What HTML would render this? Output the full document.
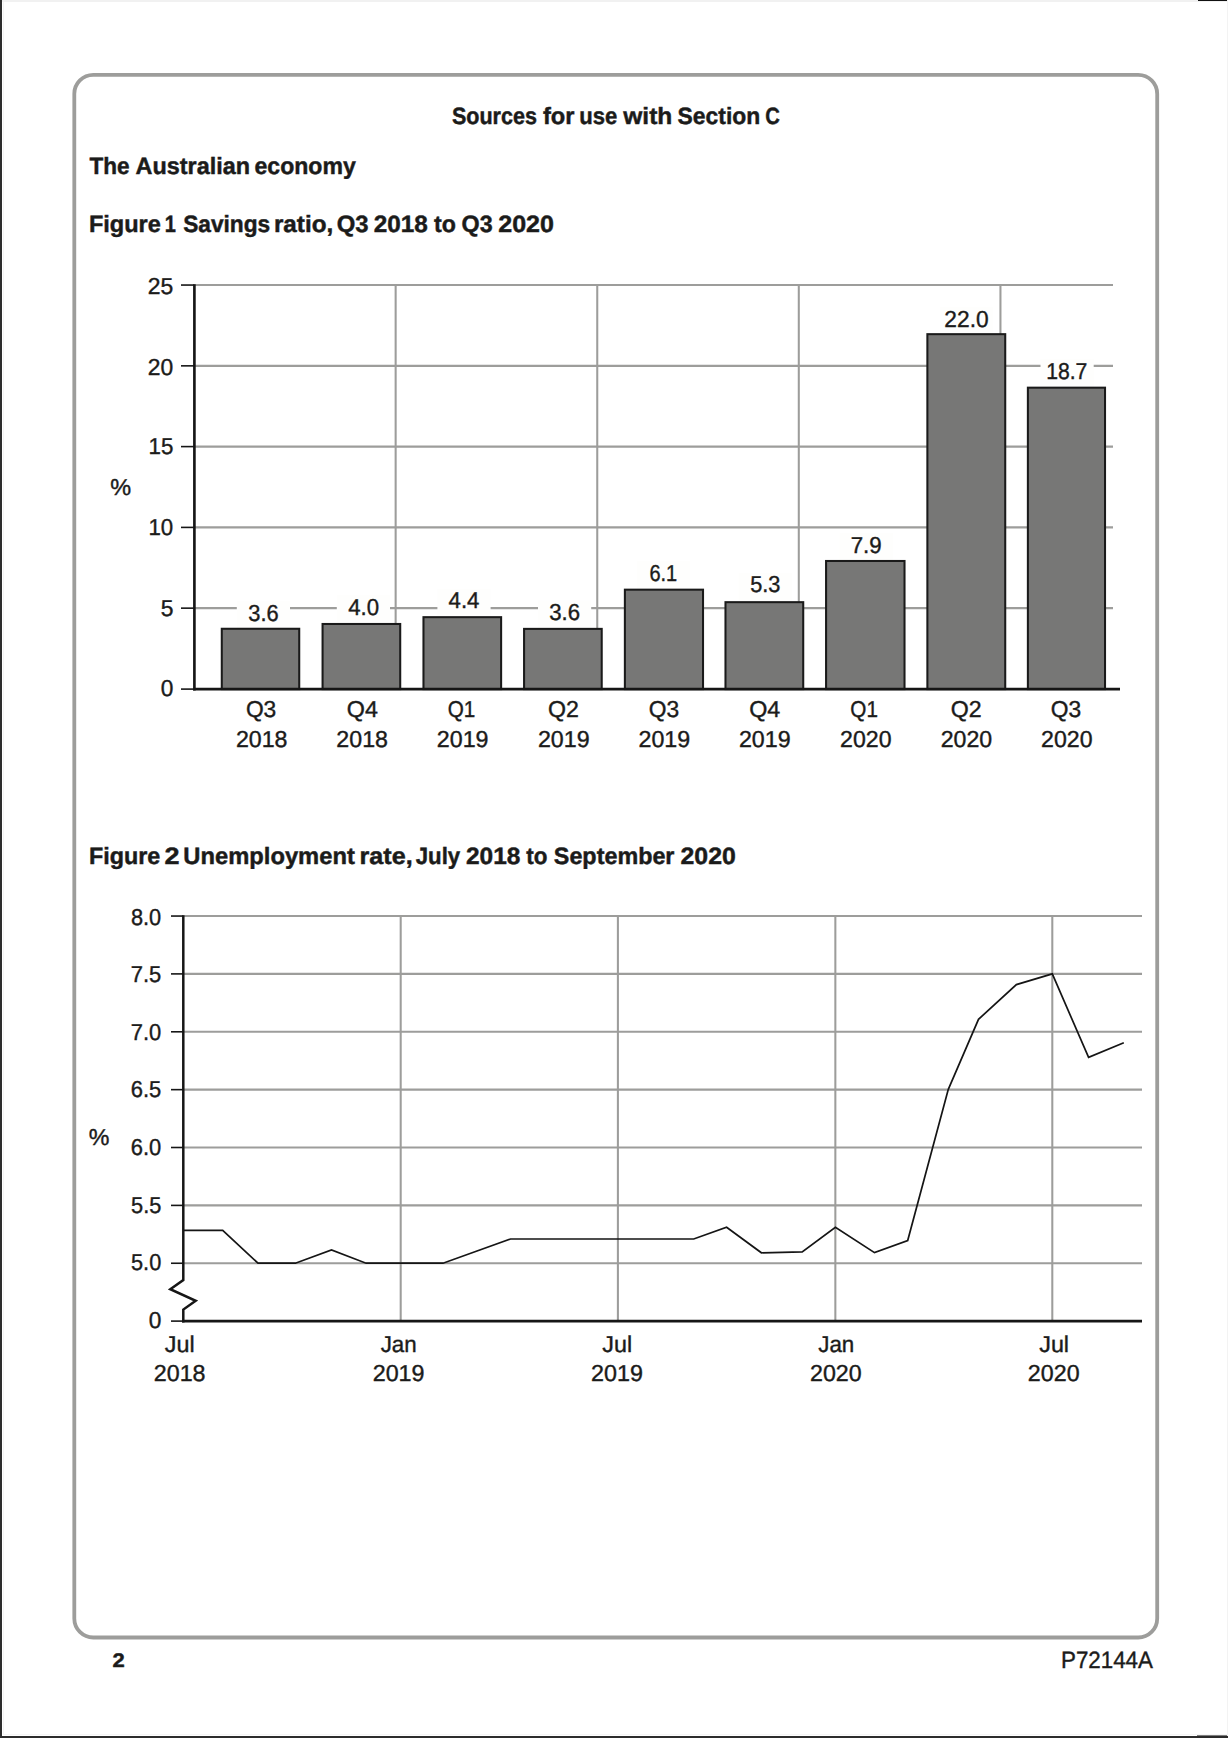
<!DOCTYPE html>
<html lang="en"><head><meta charset="utf-8"><title>Sources for use with Section C</title>
<style>
html,body{margin:0;padding:0;background:#fff;}
body{width:1228px;height:1738px;overflow:hidden;}
svg{display:block;}
text{font-family:"Liberation Sans",sans-serif;text-rendering:geometricPrecision;fill:#1b1b1a;stroke:#1b1b1a;stroke-width:0.4px;font-size:23.0px;}
.b{font-weight:bold;stroke-width:0.45px;font-size:23.6px;}
.g{stroke:#9d9d9b;stroke-width:2.06;fill:none;}
.ax{stroke:#161616;fill:none;}
.bar{fill:#777776;stroke:#1a1a1a;stroke-width:2.05;}
</style></head><body>
<svg width="1228" height="1738" viewBox="0 0 1228 1738">
<rect x="0" y="0" width="1228" height="1738" fill="#fff"/>
<!-- page edge artefacts -->
<rect x="0" y="0" width="1228" height="2" fill="#f1f1f1"/>
<rect x="1227" y="0" width="1" height="1738" fill="#f3f3f3"/>
<rect x="1198" y="0" width="29" height="1" fill="#111"/>
<rect x="3" y="2" width="1" height="1733" fill="#f4f4f4"/>
<rect x="3" y="1734" width="1224" height="1" fill="#f6f6f6"/>
<rect x="0" y="0" width="2" height="1738" fill="#2d2d2d"/>
<rect x="0" y="1736" width="1228" height="2" fill="#2d2d2d"/>
<rect x="1197" y="1735.4" width="30" height="2.6" fill="#2a2a2a"/>
<!-- frame -->
<rect x="74.3" y="74.9" width="1082.9" height="1562.6" rx="19" ry="19" fill="none" stroke="#9d9d9b" stroke-width="3.8"/>

<text y="124" class="b"><tspan x="451.88" textLength="85.00" lengthAdjust="spacingAndGlyphs">Sources</tspan> <tspan x="542.90" textLength="31.56" lengthAdjust="spacingAndGlyphs">for</tspan> <tspan x="579.33" textLength="38.02" lengthAdjust="spacingAndGlyphs">use</tspan> <tspan x="623.27" textLength="49.05" lengthAdjust="spacingAndGlyphs">with</tspan> <tspan x="677.54" textLength="82.68" lengthAdjust="spacingAndGlyphs">Section</tspan> <tspan x="765.27" textLength="14.58" lengthAdjust="spacingAndGlyphs">C</tspan></text>
<text y="174" class="b"><tspan x="89.55" textLength="40.12" lengthAdjust="spacingAndGlyphs">The</tspan> <tspan x="135.62" textLength="114.43" lengthAdjust="spacingAndGlyphs">Australian</tspan> <tspan x="254.50" textLength="101.22" lengthAdjust="spacingAndGlyphs">economy</tspan></text>
<text y="232" class="b"><tspan x="88.92" textLength="71.98" lengthAdjust="spacingAndGlyphs">Figure</tspan> <tspan x="164.74" textLength="11.12" lengthAdjust="spacingAndGlyphs">1</tspan> <tspan x="183.15" textLength="87.09" lengthAdjust="spacingAndGlyphs">Savings</tspan> <tspan x="273.90" textLength="59.32" lengthAdjust="spacingAndGlyphs">ratio,</tspan> <tspan x="336.82" textLength="31.84" lengthAdjust="spacingAndGlyphs">Q3</tspan> <tspan x="373.66" textLength="54.09" lengthAdjust="spacingAndGlyphs">2018</tspan> <tspan x="434.12" textLength="21.89" lengthAdjust="spacingAndGlyphs">to</tspan> <tspan x="461.54" textLength="31.10" lengthAdjust="spacingAndGlyphs">Q3</tspan> <tspan x="498.23" textLength="55.69" lengthAdjust="spacingAndGlyphs">2020</tspan></text>
<text y="864" class="b"><tspan x="88.94" textLength="71.36" lengthAdjust="spacingAndGlyphs">Figure</tspan> <tspan x="164.56" textLength="15.02" lengthAdjust="spacingAndGlyphs">2</tspan> <tspan x="183.37" textLength="171.42" lengthAdjust="spacingAndGlyphs">Unemployment</tspan> <tspan x="359.54" textLength="53.14" lengthAdjust="spacingAndGlyphs">rate,</tspan> <tspan x="415.76" textLength="44.46" lengthAdjust="spacingAndGlyphs">July</tspan> <tspan x="465.95" textLength="54.40" lengthAdjust="spacingAndGlyphs">2018</tspan> <tspan x="526.33" textLength="21.15" lengthAdjust="spacingAndGlyphs">to</tspan> <tspan x="553.83" textLength="120.63" lengthAdjust="spacingAndGlyphs">September</tspan> <tspan x="680.54" textLength="55.28" lengthAdjust="spacingAndGlyphs">2020</tspan></text>
<g class="g">
<line x1="194.4" y1="285.05" x2="1113" y2="285.05"/>
<line x1="194.4" y1="365.85" x2="1113" y2="365.85"/>
<line x1="194.4" y1="446.6" x2="1113" y2="446.6"/>
<line x1="194.4" y1="527.4" x2="1113" y2="527.4"/>
<line x1="194.4" y1="608.15" x2="1113" y2="608.15"/>
<line x1="395.65" y1="285" x2="395.65" y2="689"/>
<line x1="597.25" y1="285" x2="597.25" y2="689"/>
<line x1="798.8" y1="285" x2="798.8" y2="689"/>
<line x1="1000.45" y1="285" x2="1000.45" y2="689"/>
</g>
<rect x="236.8" y="600.9" width="53.2" height="27.1" fill="#fefefd"/>
<rect x="336.8" y="595.0" width="53.2" height="28.2" fill="#fefefd"/>
<rect x="437.4" y="588.7" width="53.2" height="27.7" fill="#fefefd"/>
<rect x="538.0" y="600.5" width="53.2" height="27.6" fill="#fefefd"/>
<rect x="636.7" y="560.8" width="53.2" height="28.1" fill="#fefefd"/>
<rect x="738.6" y="572.7" width="53.2" height="28.7" fill="#fefefd"/>
<rect x="839.6" y="532.8" width="53.2" height="27.4" fill="#fefefd"/>
<rect x="940.0" y="306.8" width="53.2" height="26.6" fill="#fefefd"/>
<rect x="1040.5" y="359.0" width="53.2" height="27.9" fill="#fefefd"/>
<rect class="bar" x="221.78" y="628.77" width="77.45" height="60.33"/>
<rect class="bar" x="322.57" y="623.98" width="77.65" height="65.12"/>
<rect class="bar" x="423.47" y="617.17" width="77.65" height="71.93"/>
<rect class="bar" x="524.07" y="628.88" width="77.65" height="60.23"/>
<rect class="bar" x="624.88" y="589.67" width="78.15" height="99.43"/>
<rect class="bar" x="725.48" y="602.17" width="77.75" height="86.93"/>
<rect class="bar" x="826.07" y="560.98" width="78.45" height="128.12"/>
<rect class="bar" x="927.38" y="334.17" width="77.85" height="354.93"/>
<rect class="bar" x="1027.88" y="387.67" width="77.15" height="301.43"/>
<g class="ax"><line x1="194.4" y1="284.2" x2="194.4" y2="690.55" stroke-width="2.65"/>
<line x1="193.08" y1="689.2" x2="1120" y2="689.2" stroke-width="2.7"/>
<line x1="181" y1="285.05" x2="194.4" y2="285.05" stroke-width="1.6"/>
<line x1="181" y1="365.85" x2="194.4" y2="365.85" stroke-width="1.6"/>
<line x1="181" y1="446.6" x2="194.4" y2="446.6" stroke-width="1.6"/>
<line x1="181" y1="527.4" x2="194.4" y2="527.4" stroke-width="1.6"/>
<line x1="181" y1="608.15" x2="194.4" y2="608.15" stroke-width="1.6"/>
<line x1="181" y1="689.1" x2="194.4" y2="689.1" stroke-width="1.6"/>
</g>
<g class="g">
<line x1="183.3" y1="916.05" x2="1142" y2="916.05"/>
<line x1="183.3" y1="973.9" x2="1142" y2="973.9"/>
<line x1="183.3" y1="1031.8" x2="1142" y2="1031.8"/>
<line x1="183.3" y1="1089.65" x2="1142" y2="1089.65"/>
<line x1="183.3" y1="1147.5" x2="1142" y2="1147.5"/>
<line x1="183.3" y1="1205.4" x2="1142" y2="1205.4"/>
<line x1="183.3" y1="1263.25" x2="1142" y2="1263.25"/>
<line x1="400.7" y1="916" x2="400.7" y2="1321"/>
<line x1="617.9" y1="916" x2="617.9" y2="1321"/>
<line x1="835.35" y1="916" x2="835.35" y2="1321"/>
<line x1="1052.3" y1="916" x2="1052.3" y2="1321"/>
</g>
<polyline fill="none" stroke="#151515" stroke-width="1.7" stroke-linejoin="miter" points="183.3,1230.4 222.7,1230.4 258,1263.2 295.4,1263.2 331.5,1249.9 366.1,1263.2 443,1263.2 510.5,1239 693.7,1239 726.6,1227.3 761.4,1252.8 802.2,1251.9 835.4,1227.3 874.5,1252.6 907.7,1240.5 948.3,1089.4 978.5,1019.3 1016.4,984.6 1052.3,973.9 1088.6,1057.4 1123.8,1042.8"/>
<g class="ax">
<polyline stroke-width="2.5" stroke-linejoin="miter" points="183.3,915.2 183.3,1280 170.3,1289.2 195.7,1300.8 183.3,1309.6 183.3,1322.4"/>
<line x1="182.05" y1="1321.1" x2="1142" y2="1321.1" stroke-width="2.7"/>
<line x1="171" y1="916.05" x2="183.3" y2="916.05" stroke-width="1.6"/>
<line x1="171" y1="973.9" x2="183.3" y2="973.9" stroke-width="1.6"/>
<line x1="171" y1="1031.8" x2="183.3" y2="1031.8" stroke-width="1.6"/>
<line x1="171" y1="1089.65" x2="183.3" y2="1089.65" stroke-width="1.6"/>
<line x1="171" y1="1147.5" x2="183.3" y2="1147.5" stroke-width="1.6"/>
<line x1="171" y1="1205.4" x2="183.3" y2="1205.4" stroke-width="1.6"/>
<line x1="171" y1="1263.25" x2="183.3" y2="1263.25" stroke-width="1.6"/>
<line x1="171" y1="1321.1" x2="183.3" y2="1321.1" stroke-width="1.6"/>
</g>
<text x="248.27" y="621" textLength="30.39" lengthAdjust="spacingAndGlyphs">3.6</text>
<text x="348.19" y="615" textLength="30.88" lengthAdjust="spacingAndGlyphs">4.0</text>
<text x="448.59" y="608" textLength="30.86" lengthAdjust="spacingAndGlyphs">4.4</text>
<text x="549.26" y="620" textLength="30.82" lengthAdjust="spacingAndGlyphs">3.6</text>
<text x="649.39" y="581" textLength="27.79" lengthAdjust="spacingAndGlyphs">6.1</text>
<text x="750.13" y="592" textLength="30.23" lengthAdjust="spacingAndGlyphs">5.3</text>
<text x="850.66" y="553" textLength="31.00" lengthAdjust="spacingAndGlyphs">7.9</text>
<text x="944.36" y="327" textLength="44.23" lengthAdjust="spacingAndGlyphs">22.0</text>
<text x="1046.19" y="379" textLength="41.18" lengthAdjust="spacingAndGlyphs">18.7</text>
<text x="147.85" y="294" textLength="25.52" lengthAdjust="spacingAndGlyphs">25</text>
<text x="147.85" y="375" textLength="25.44" lengthAdjust="spacingAndGlyphs">20</text>
<text x="148.50" y="454" textLength="24.84" lengthAdjust="spacingAndGlyphs">15</text>
<text x="148.50" y="535" textLength="24.76" lengthAdjust="spacingAndGlyphs">10</text>
<text x="160.63" y="616" textLength="12.73" lengthAdjust="spacingAndGlyphs">5</text>
<text x="160.66" y="696" textLength="12.62" lengthAdjust="spacingAndGlyphs">0</text>
<text x="110.16" y="495" textLength="20.87" lengthAdjust="spacingAndGlyphs">%</text>
<text x="245.92" y="717" textLength="30.38" lengthAdjust="spacingAndGlyphs">Q3</text>
<text x="235.93" y="747" textLength="51.57" lengthAdjust="spacingAndGlyphs">2018</text>
<text x="346.80" y="717" textLength="31.09" lengthAdjust="spacingAndGlyphs">Q4</text>
<text x="336.38" y="747" textLength="51.57" lengthAdjust="spacingAndGlyphs">2018</text>
<text x="447.72" y="717" textLength="27.59" lengthAdjust="spacingAndGlyphs">Q1</text>
<text x="436.88" y="747" textLength="51.67" lengthAdjust="spacingAndGlyphs">2019</text>
<text x="547.90" y="717" textLength="30.86" lengthAdjust="spacingAndGlyphs">Q2</text>
<text x="537.93" y="747" textLength="51.67" lengthAdjust="spacingAndGlyphs">2019</text>
<text x="648.72" y="717" textLength="30.38" lengthAdjust="spacingAndGlyphs">Q3</text>
<text x="638.48" y="747" textLength="51.67" lengthAdjust="spacingAndGlyphs">2019</text>
<text x="749.20" y="717" textLength="31.09" lengthAdjust="spacingAndGlyphs">Q4</text>
<text x="738.93" y="747" textLength="51.67" lengthAdjust="spacingAndGlyphs">2019</text>
<text x="850.37" y="717" textLength="27.59" lengthAdjust="spacingAndGlyphs">Q1</text>
<text x="840.09" y="747" textLength="51.47" lengthAdjust="spacingAndGlyphs">2020</text>
<text x="950.85" y="717" textLength="30.86" lengthAdjust="spacingAndGlyphs">Q2</text>
<text x="940.69" y="747" textLength="51.47" lengthAdjust="spacingAndGlyphs">2020</text>
<text x="1050.82" y="717" textLength="30.38" lengthAdjust="spacingAndGlyphs">Q3</text>
<text x="1041.04" y="747" textLength="51.47" lengthAdjust="spacingAndGlyphs">2020</text>
<text x="130.95" y="925" textLength="30.30" lengthAdjust="spacingAndGlyphs">8.0</text>
<text x="130.77" y="982" textLength="30.55" lengthAdjust="spacingAndGlyphs">7.5</text>
<text x="130.78" y="1040" textLength="30.48" lengthAdjust="spacingAndGlyphs">7.0</text>
<text x="130.78" y="1097" textLength="30.54" lengthAdjust="spacingAndGlyphs">6.5</text>
<text x="130.79" y="1155" textLength="30.47" lengthAdjust="spacingAndGlyphs">6.0</text>
<text x="131.03" y="1213" textLength="30.29" lengthAdjust="spacingAndGlyphs">5.5</text>
<text x="131.03" y="1270" textLength="30.22" lengthAdjust="spacingAndGlyphs">5.0</text>
<text x="148.66" y="1328" textLength="12.62" lengthAdjust="spacingAndGlyphs">0</text>
<text x="88.87" y="1145" textLength="20.66" lengthAdjust="spacingAndGlyphs">%</text>
<text x="164.79" y="1352" textLength="29.82" lengthAdjust="spacingAndGlyphs">Jul</text>
<text x="153.78" y="1381" textLength="51.78" lengthAdjust="spacingAndGlyphs">2018</text>
<text x="380.70" y="1352" textLength="36.00" lengthAdjust="spacingAndGlyphs">Jan</text>
<text x="372.68" y="1381" textLength="51.88" lengthAdjust="spacingAndGlyphs">2019</text>
<text x="602.29" y="1352" textLength="29.82" lengthAdjust="spacingAndGlyphs">Jul</text>
<text x="591.08" y="1381" textLength="51.88" lengthAdjust="spacingAndGlyphs">2019</text>
<text x="818.25" y="1352" textLength="36.00" lengthAdjust="spacingAndGlyphs">Jan</text>
<text x="810.03" y="1381" textLength="51.68" lengthAdjust="spacingAndGlyphs">2020</text>
<text x="1039.24" y="1352" textLength="29.82" lengthAdjust="spacingAndGlyphs">Jul</text>
<text x="1027.88" y="1381" textLength="51.68" lengthAdjust="spacingAndGlyphs">2020</text>
<text x="112.64" y="1667" class="b" style="font-size:19.6px" textLength="12.24" lengthAdjust="spacingAndGlyphs">2</text>
<text x="1060.97" y="1668" style="font-size:23.6px" textLength="91.98" lengthAdjust="spacingAndGlyphs">P72144A</text>
</svg></body></html>
